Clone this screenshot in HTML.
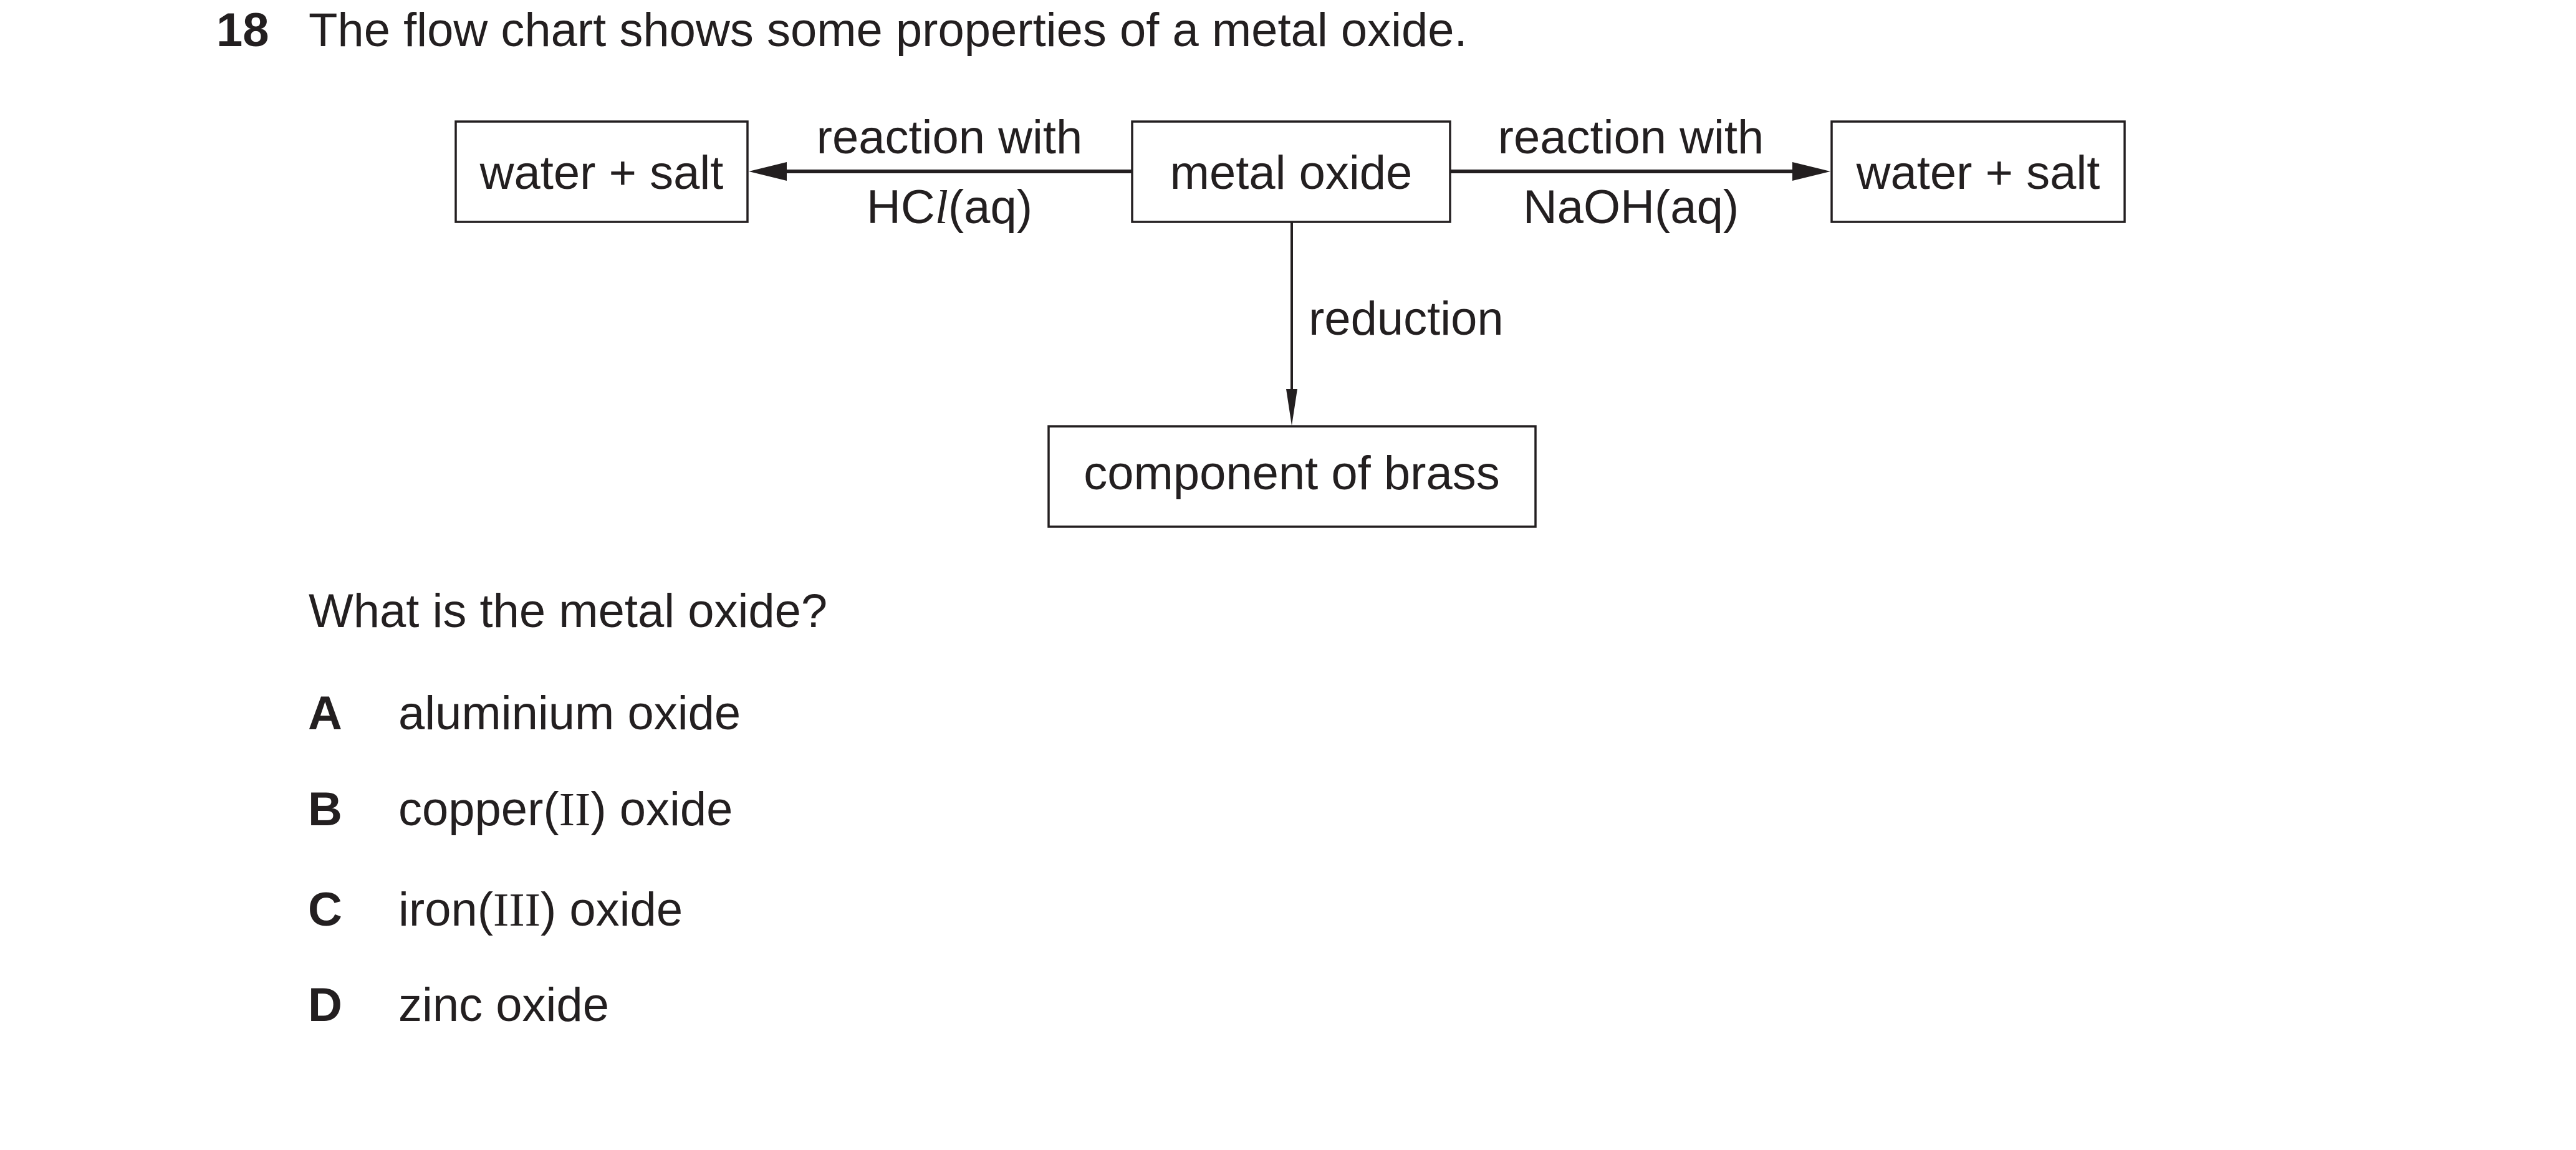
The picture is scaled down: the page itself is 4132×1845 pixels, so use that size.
<!DOCTYPE html>
<html><head><meta charset="utf-8"><style>
html,body{margin:0;padding:0;background:#fff;}
svg{display:block}
text{font-family:"Liberation Sans",Arial,sans-serif;font-size:76px;fill:#231f20}
.s{font-family:"Liberation Serif",serif}
.b{font-weight:bold}
</style></head><body>
<svg width="4132" height="1845" viewBox="0 0 4132 1845" xmlns="http://www.w3.org/2000/svg">
<text x="347" y="74" class="b">18</text>
<text x="495" y="74">The flow chart shows some properties of a metal oxide.</text>
<g fill="none" stroke="#231f20" stroke-width="3.5">
<rect x="731" y="195" width="468" height="161"/>
<rect x="1816" y="195" width="510" height="161"/>
<rect x="2938" y="195" width="470" height="161"/>
<rect x="1682" y="684" width="781" height="161"/>
<line x1="1816" y1="275" x2="1260" y2="275" stroke-width="6"/>
<line x1="2326" y1="275" x2="2880" y2="275" stroke-width="6"/>
<line x1="2072" y1="356" x2="2072" y2="630" stroke-width="4"/>
</g>
<g fill="#231f20">
<polygon points="1201,275 1262,260 1262,290"/>
<polygon points="2936,275 2875,260 2875,290"/>
<polygon points="2072,683 2063,624 2081,624"/>
</g>
<g text-anchor="middle">
<text x="965" y="303">water + salt</text>
<text x="3173" y="303">water + salt</text>
<text x="2071" y="303">metal oxide</text>
<text x="1523" y="246">reaction with</text>
<text x="1523" y="358">HC<tspan class="s" font-style="italic">l</tspan>(aq)</text>
<text x="2616" y="246">reaction with</text>
<text x="2616" y="358">NaOH(aq)</text>
<text x="2072" y="785">component of brass</text>
</g>
<text x="2099" y="537">reduction</text>
<text x="495" y="1006">What is the metal oxide?</text>
<text x="494" y="1170" class="b">A</text><text x="639" y="1170">aluminium oxide</text>
<text x="494" y="1324" class="b">B</text><text x="639" y="1324">copper(<tspan class="s">II</tspan>) oxide</text>
<text x="494" y="1485" class="b">C</text><text x="639" y="1485">iron(<tspan class="s">III</tspan>) oxide</text>
<text x="494" y="1638" class="b">D</text><text x="639" y="1638">zinc oxide</text>
</svg>
</body></html>
